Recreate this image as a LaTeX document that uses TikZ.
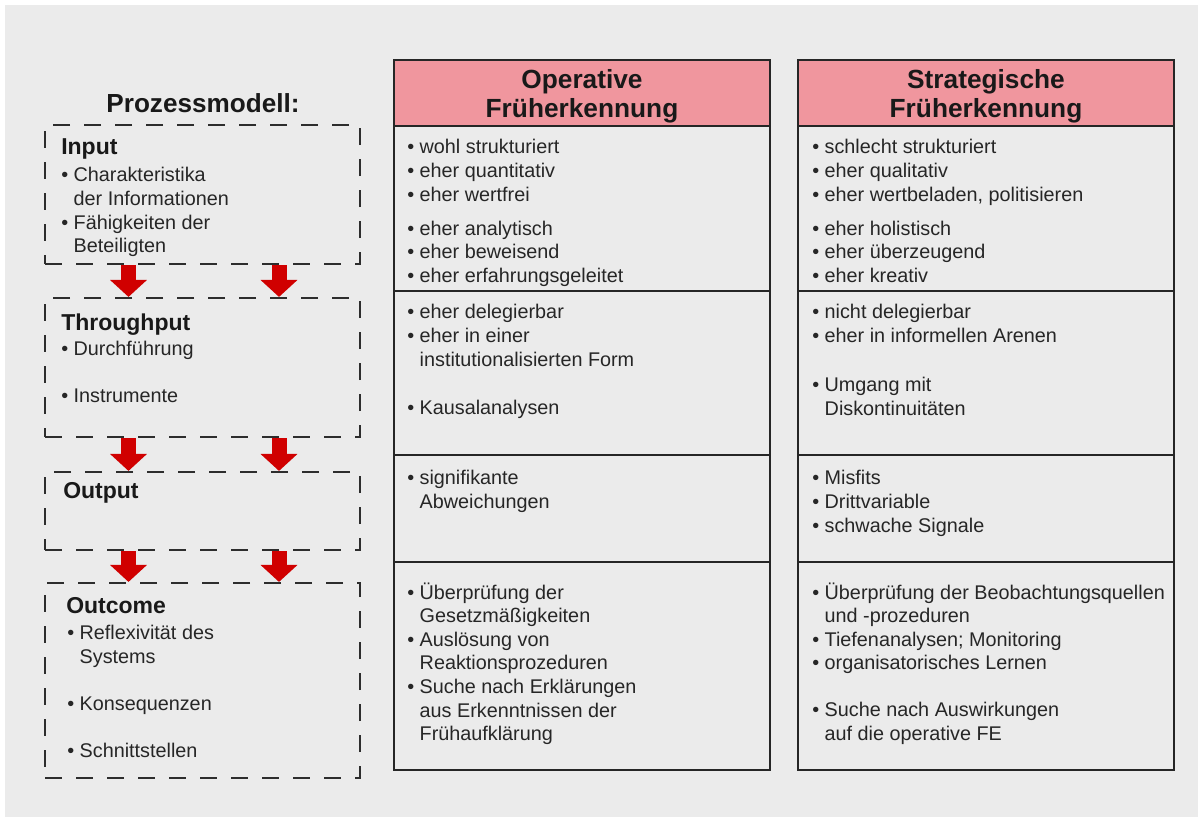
\documentclass[tikz,border=0pt]{standalone}
\usepackage{fontspec}
\setmainfont{Liberation Sans}
\usetikzlibrary{positioning, arrows.meta}

\definecolor{bggray}{RGB}{235,235,235}
\definecolor{headpink}{RGB}{240,150,158}
\definecolor{arrowred}{RGB}{208,0,0}
\definecolor{dashgray}{RGB}{45,45,45}

\newcommand{\ind}{\phantom{\textbullet\ }}

\begin{document}
\begin{tikzpicture}[
    x=0.75pt, y=-0.75pt,
    phase/.style={draw=dashgray, line width=1.6pt, dash pattern=on 12.75pt off 10.5pt,
                  minimum width=236.25pt, inner sep=0pt},
    head/.style={draw=black!85, line width=1.3pt, fill=headpink, minimum width=282pt,
                 minimum height=49.5pt},
    headtxt/.style={align=center, inner sep=0pt, text=black!90,
                    font=\fontsize{19.7}{21.75}\selectfont\bfseries},
    cell/.style={draw=black!85, line width=1.3pt, minimum width=282pt, inner sep=0pt},
    txt/.style={anchor=north west, align=left, inner sep=0pt, text=black!85,
                font=\fontsize{14.85}{17.7}\selectfont,
                execute at begin node={\rule{0pt}{14pt}}},
    lbl/.style={anchor=base west, inner sep=0pt, text=black!90,
                font=\fontsize{17.25}{20}\selectfont\bfseries},
    flow/.style={arrowred, line width=11.25pt, -{Triangle[width=27pt, length=12.75pt]}}
]
\useasboundingbox (0,0) rectangle (1203,821);
\fill[bggray] (5,5) rectangle (1198,817);

% process model
\node[anchor=base, inner sep=0pt, text=black!90, font=\fontsize{19.6}{22}\selectfont\bfseries]
    (title) at (203,112) {Prozessmodell:};

\node[phase, minimum height=104.25pt] (input) at (202.5,194.5) {};
\node[phase, minimum height=104.25pt] (thru)  at (202.5,367.5) {};
\node[phase, minimum height=58.5pt]   (output) at (202.5,511) {};
\node[phase, minimum height=146.25pt] (outcome) at (202.5,680.5) {};

\node[lbl] (inputlbl) at (61,154) {Input};
\node[txt] (inputtxt) at (61,167.3)
    {\textbullet\ Charakteristika\\\ind der Informationen\\\textbullet\ Fähigkeiten der\\\ind Beteiligten};
\node[lbl] (thrulbl) at (61,330) {Throughput};
\node[txt] (thrutxt) at (61,341.3)
    {\textbullet\ Durchführung\\[17.5pt]\textbullet\ Instrumente};
\node[lbl] (outputlbl) at (63,498) {Output};
\node[lbl] (outcomelbl) at (66,613) {Outcome};
\node[txt] (outcometxt) at (67,625.3)
    {\textbullet\ Reflexivität des\\\ind Systems\\[17.5pt]\textbullet\ Konsequenzen\\[17.5pt]\textbullet\ Schnittstellen};

\coordinate (al) at (128.5,0);
\coordinate (ar) at (279,0);
\draw[flow] (input.south -| al) -- (thru.north -| al);
\draw[flow] (input.south -| ar) -- (thru.north -| ar);
\draw[flow] (thru.south -| al) -- (output.north -| al);
\draw[flow] (thru.south -| ar) -- (output.north -| ar);
\draw[flow] (output.south -| al) -- (outcome.north -| al);
\draw[flow] (output.south -| ar) -- (outcome.north -| ar);

% operative column
\node[head] (ophead) at (582,93) {};
\node[headtxt] (opheadtxt) at (582,96) {Operative\\Früherkennung};
\node[cell, minimum height=123.75pt] (op1) at (582,208.5) {};
\node[cell, minimum height=123pt]    (op2) at (582,373) {};
\node[cell, minimum height=80.25pt]  (op3) at (582,508.5) {};
\node[cell, minimum height=156pt]    (op4) at (582,666) {};

\node[txt] (op1txt) at (407,139.3)
    {\textbullet\ wohl strukturiert\\\textbullet\ eher quantitativ\\\textbullet\ eher wertfrei\\[8pt]%
     \textbullet\ eher analytisch\\\textbullet\ eher beweisend\\\textbullet\ eher erfahrungsgeleitet};
\node[txt] (op2txt) at (407,304.3)
    {\textbullet\ eher delegierbar\\\textbullet\ eher in einer\\\ind institutionalisierten Form\\[18.5pt]%
     \textbullet\ Kausalanalysen};
\node[txt] (op3txt) at (407,470.3)
    {\textbullet\ signifikante\\\ind Abweichungen};
\node[txt] (op4txt) at (407,582.3)
    {\textbullet\ Überprüfung der\\\ind Gesetzmäßigkeiten\\\textbullet\ Auslösung von\\\ind Reaktionsprozeduren\\%
     \textbullet\ Suche nach Erklärungen\\\ind aus Erkenntnissen der\\\ind Frühaufklärung};

% strategic column
\node[head] (sthead) at (986,93) {};
\node[headtxt] (stheadtxt) at (986,96) {Strategische\\Früherkennung};
\node[cell, minimum height=123.75pt] (st1) at (986,208.5) {};
\node[cell, minimum height=123pt]    (st2) at (986,373) {};
\node[cell, minimum height=80.25pt]  (st3) at (986,508.5) {};
\node[cell, minimum height=156pt]    (st4) at (986,666) {};

\node[txt] (st1txt) at (812,139.3)
    {\textbullet\ schlecht strukturiert\\\textbullet\ eher qualitativ\\\textbullet\ eher wertbeladen, politisieren\\[8pt]%
     \textbullet\ eher holistisch\\\textbullet\ eher überzeugend\\\textbullet\ eher kreativ};
\node[txt] (st2txt) at (812,304.3)
    {\textbullet\ nicht delegierbar\\\textbullet\ eher in informellen Arenen\\[19pt]%
     \textbullet\ Umgang mit\\\ind Diskontinuitäten};
\node[txt] (st3txt) at (812,470.3)
    {\textbullet\ Misfits\\\textbullet\ Drittvariable\\\textbullet\ schwache Signale};
\node[txt] (st4txt) at (812,582.3)
    {\textbullet\ Überprüfung der Beobachtungsquellen\\\ind und -prozeduren\\\textbullet\ Tiefenanalysen; Monitoring\\%
     \textbullet\ organisatorisches Lernen\\[17.5pt]\textbullet\ Suche nach Auswirkungen\\\ind auf die operative FE};
\end{tikzpicture}
\end{document}
